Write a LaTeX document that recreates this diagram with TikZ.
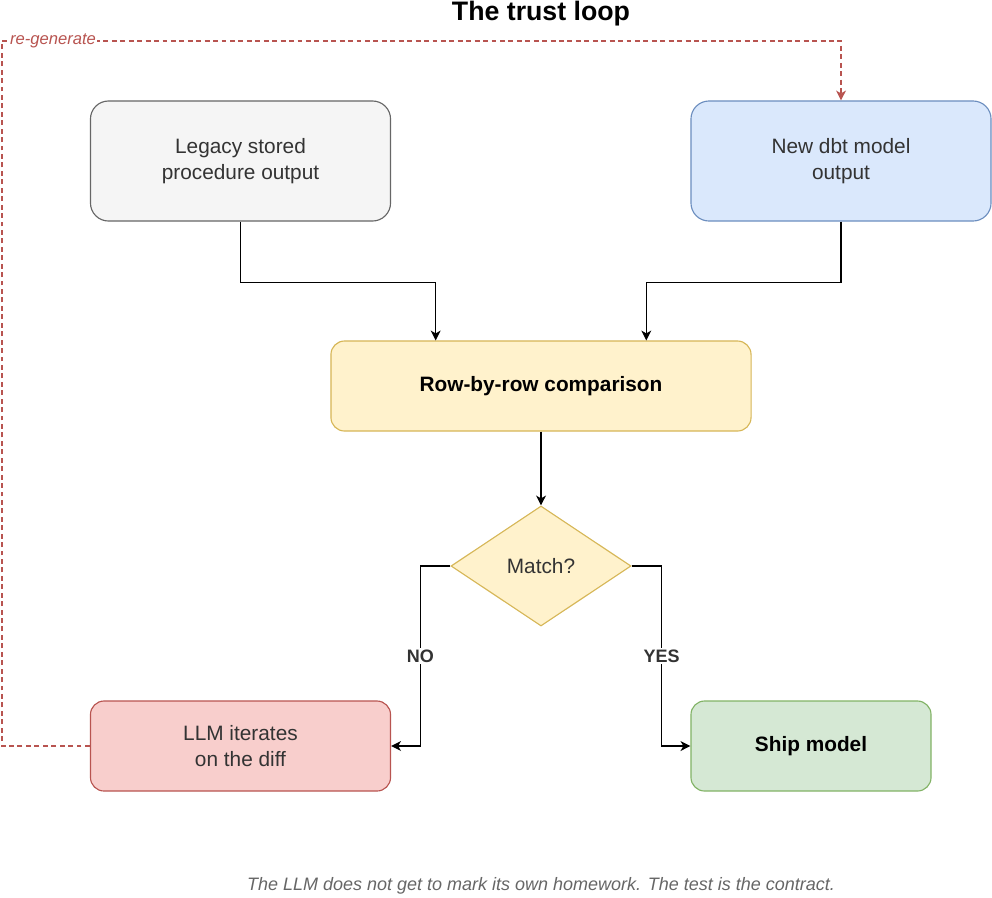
\documentclass[tikz,border=0pt]{standalone}
\usepackage{fontspec}
\setmainfont{Liberation Sans}
\usepackage{tikz}
\usetikzlibrary{arrows.meta,positioning,calc,shapes.geometric}
\definecolor{textgrey}{RGB}{51,51,51}
\definecolor{notegrey}{RGB}{102,102,102}
\definecolor{legacyfill}{RGB}{245,245,245}
\definecolor{legacydraw}{RGB}{102,102,102}
\definecolor{bluefill}{RGB}{218,232,252}
\definecolor{bluedraw}{RGB}{108,142,191}
\definecolor{yellowfill}{RGB}{255,242,204}
\definecolor{yellowdraw}{RGB}{214,182,86}
\definecolor{redfill}{RGB}{248,206,204}
\definecolor{reddraw}{RGB}{184,84,80}
\definecolor{greenfill}{RGB}{213,232,212}
\definecolor{greendraw}{RGB}{130,179,102}
\tikzset{
  base/.style={font=\fontsize{14.8}{18.5}\selectfont, align=center, inner sep=3pt, text=textgrey},
  box/.style={base, rectangle, rounded corners=0.45cm, line width=0.8pt, minimum width=7.5cm, minimum height=3cm},
  flat/.style={box, rounded corners=0.34cm, minimum height=2.25cm},
  src/.style={box, draw=legacydraw, fill=legacyfill},
  tgt/.style={box, draw=bluedraw, fill=bluefill},
  cmpbox/.style={flat, draw=yellowdraw, fill=yellowfill, text=black, font=\fontsize{14.8}{18.5}\selectfont\bfseries},
  dec/.style={base, diamond, aspect=1.5, draw=yellowdraw, fill=yellowfill, line width=0.8pt, inner sep=0pt, minimum width=4.5cm, minimum height=3cm},
  bad/.style={flat, draw=reddraw, fill=redfill},
  ok/.style={flat, draw=greendraw, fill=greenfill, text=black, font=\fontsize{14.8}{18.5}\selectfont\bfseries},
  arr/.style={-{Stealth[length=7pt,width=7pt,inset=2pt]}, line width=0.9pt, draw=black},
  regen/.style={-{Stealth[length=7pt,width=7pt,inset=2pt]}, line width=0.9pt, draw=reddraw, dash pattern=on 3.5pt off 2.5pt},
  lbl/.style={font=\fontsize{12.8}{15}\selectfont\bfseries, text=textgrey, inner sep=1.5pt, fill=white},
  regenlbl/.style={font=\fontsize{11.8}{14}\selectfont\itshape, text=reddraw, inner sep=1pt, fill=white},
  title/.style={font=\fontsize{19}{22}\selectfont\bfseries, text=black, inner sep=0pt},
  note/.style={font=\fontsize{12.8}{15}\selectfont\itshape, text=notegrey, inner sep=0pt},
}
\begin{document}
\begin{tikzpicture}[x=0.025cm,y=-0.025cm]
  \useasboundingbox (0,0) rectangle (992,897);
  % title
  \node[title,anchor=base] (ttl) at (541,20) {The trust loop};
  % the two outputs
  \node[src] (legacy) at (240.5,161) {Legacy stored\\procedure output};
  \node[tgt] (newdbt) at (841,161) {New dbt model\\output};
  % comparison and decision
  \node[cmpbox,minimum width=10.5cm] (cmp) at (541,386) {Row-by-row comparison};
  \node[dec] (match) at (541,566) {Match?};
  % outcomes
  \node[bad] (llm) at (240.5,746) {LLM iterates\\on the diff};
  \node[ok,minimum width=6cm] (ship) at (811,746) {Ship model};
  \node[note] (foot) at (541,886) {The LLM does not get to mark its own homework. The test is the contract.};
  % connectors
  \coordinate (cmpl) at ($(cmp.north west)!0.25!(cmp.north east)$);
  \coordinate (cmpr) at ($(cmp.north west)!0.75!(cmp.north east)$);
  \draw[arr] (legacy.south) -- ++(0,61) -| (cmpl);
  \draw[arr] (newdbt.south) -- ++(0,61) -| (cmpr);
  \draw[arr] (cmp.south) -- (match.north);
  \draw[arr] (match.west) -- ++(-30,0) |- node[lbl,pos=0.25] {NO} (llm.east);
  \draw[arr] (match.east) -- ++(30,0) |- node[lbl,pos=0.25] {YES} (ship.west);
  % loop back
  \coordinate (loopc) at (2,41);
  \draw[regen] (llm.west) -| (loopc) -| (newdbt.north);
  \node[regenlbl] (regenlabel) at (53,41) {re-generate};
\end{tikzpicture}
\end{document}
